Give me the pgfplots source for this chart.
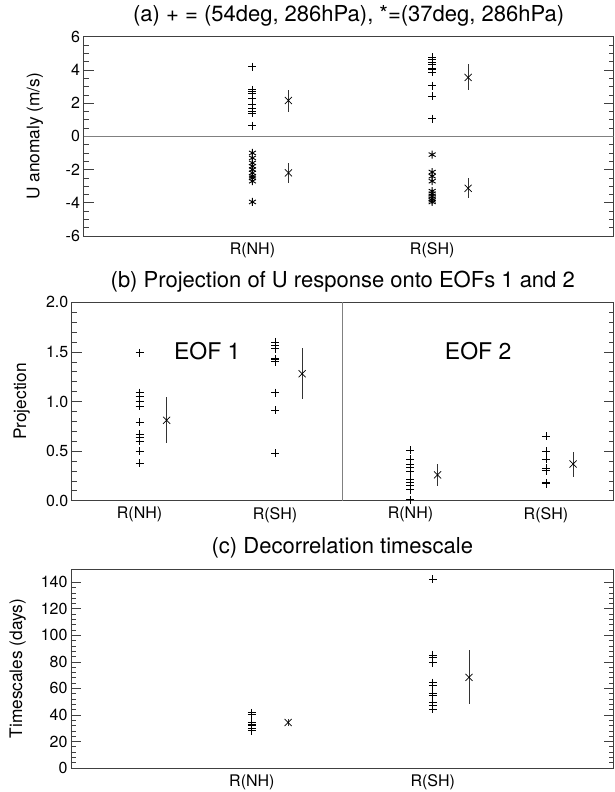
\documentclass[border=0pt]{standalone}
\usepackage{pgfplots}
\pgfplotsset{compat=1.18}
\usepackage{fontspec}
\setmainfont{TeX Gyre Heros}
\definecolor{axgray}{gray}{0.25}
\definecolor{lgray}{gray}{0.5}
\pgfplotsset{
  myaxis/.style={
    scale only axis,
    axis line style={line width=0.9pt, axgray},
    every tick/.style={line width=0.6pt, axgray},
    major tick length=10pt,
    minor tick length=5pt,
    tick align=inside,
    xtick style={draw=none},
    /pgf/number format/assume math mode=true,
    tick label style={font=\fontsize{16}{18}\selectfont},
    xticklabel style={yshift=-3pt},
    title style={font=\fontsize{22}{24}\selectfont, at={(axis description cs:0.5,1)}, anchor=center, yshift=15pt},
    ylabel style={font=\fontsize{17.3}{19}\selectfont, anchor=center},
  },
  pts/.style={only marks, mark=+, mark size=4pt, line width=0.9pt, black},
  stars/.style={only marks, mark=asterisk, mark size=4pt, line width=0.9pt, black},
  means/.style={only marks, mark=x, mark size=5pt, black, line width=0.7pt,
    error bars/.cd, y dir=both, y explicit, error mark=none,
    error bar style={line width=0.8pt, black!80}},
}
\begin{document}
\begin{tikzpicture}
\useasboundingbox (0,0) rectangle (615pt,792pt);
% ---------------- (a)
\begin{axis}[myaxis, at={(83.5pt,556pt)}, anchor=south west,
  width=530.2pt, height=199.3pt,
  xmin=0.06, xmax=3.01, ymin=-6, ymax=6,
  ytick={-6,-4,...,6}, minor y tick num=3,
  xtick={1,2}, xticklabels={R(NH),R(SH)}, minor xtick={1,2},
  ylabel={U anomaly (m/s)},
  ylabel style={at={(axis description cs:-0.0915,0.5)}},
  title={(a) + = (54deg, 286hPa), *=(37deg, 286hPa)}]
\addplot[lgray, line width=1pt, forget plot] coordinates {(0.06,0) (3.01,0)};
\addplot[pts] coordinates {(1,4.2) (1,2.8) (1,2.7) (1,2.6) (1,2.3) (1,1.9) (1,1.7) (1,1.5) (1,1.4) (1,0.65)};
\addplot[stars] coordinates {(1,-1.0) (1,-1.3) (1,-1.6) (1,-1.8) (1,-2.0) (1,-2.2) (1,-2.4) (1,-2.5) (1,-2.7) (1,-3.95)};
\addplot[pts] coordinates {(2,4.75) (2,4.6) (2,4.45) (2,4.3) (2,4.1) (2,4.0) (2,3.85) (2,3.05) (2,2.4) (2,1.07)};
\addplot[stars] coordinates {(2,-1.1) (2,-2.15) (2,-2.4) (2,-2.7) (2,-3.3) (2,-3.45) (2,-3.6) (2,-3.75) (2,-3.85) (2,-3.95)};
\addplot[means] table[x=x, y=y, y error plus=ep, y error minus=em] {
x y ep em
1.2 2.16 0.64 0.70
1.2 -2.2 0.57 0.60
2.2 3.55 0.80 0.75
2.2 -3.13 0.60 0.60
};
\end{axis}
% ---------------- (b)
\begin{axis}[myaxis, at={(71.8pt,291.3pt)}, anchor=south west,
  width=541.9pt, height=198.4pt,
  xmin=0, xmax=4, ymin=0, ymax=2,
  ytick={0,0.5,...,2}, minor y tick num=4,
  yticklabel style={/pgf/number format/.cd, fixed, fixed zerofill, precision=1},
  xtick={0.5,1.5,2.5,3.5}, xticklabels={R(NH),R(SH),R(NH),R(SH)}, minor xtick={0.5,1.5,2.5,3.5},
  ylabel={Projection},
  ylabel style={at={(axis description cs:-0.0926,0.5)}},
  title={(b) Projection of U response onto EOFs 1 and 2}]
\addplot[lgray, line width=1.2pt, forget plot] coordinates {(2,0) (2,2)};
\addplot[pts] coordinates {(0.5,1.49) (0.5,1.09) (0.5,1.05) (0.5,1.0) (0.5,0.955) (0.5,0.79) (0.5,0.67) (0.5,0.64) (0.5,0.6) (0.5,0.5) (0.5,0.38)};
\addplot[pts] coordinates {(1.5,1.60) (1.5,1.57) (1.5,1.53) (1.5,1.43) (1.5,1.42) (1.5,1.40) (1.5,1.09) (1.5,0.91) (1.5,0.48)};
\addplot[pts] coordinates {(2.5,0.51) (2.5,0.42) (2.5,0.37) (2.5,0.34) (2.5,0.29) (2.5,0.21) (2.5,0.18) (2.5,0.15) (2.5,0.11) (2.5,0.01)};
\addplot[pts] coordinates {(3.5,0.65) (3.5,0.50) (3.5,0.42) (3.5,0.33) (3.5,0.30) (3.5,0.18) (3.5,0.17)};
\addplot[means] table[x=x, y=y, y error plus=ep, y error minus=em] {
x y ep em
0.7 0.81 0.24 0.23
1.7 1.28 0.26 0.25
2.7 0.26 0.11 0.11
3.7 0.37 0.12 0.13
};
\node[font=\fontsize{23}{25}\selectfont] at (axis cs:1.0,1.51) {EOF 1};
\node[font=\fontsize{23}{25}\selectfont] at (axis cs:3.0,1.51) {EOF 2};
\end{axis}
% ---------------- (c)
\begin{axis}[myaxis, at={(71pt,24pt)}, anchor=south west,
  width=542.7pt, height=199pt,
  xmin=0, xmax=3, ymin=0, ymax=150,
  ytick={0,20,...,140}, minor y tick num=4,
  xtick={1,2}, xticklabels={R(NH),R(SH)}, minor xtick={1,2},
  ylabel={Timescales (days)},
  ylabel style={at={(axis description cs:-0.0984,0.5)}},
  title={(c) Decorrelation timescale}]
\addplot[pts] coordinates {(1,41.5) (1,40.5) (1,40) (1,34) (1,33) (1,32) (1,29.5) (1,28)};
\addplot[pts] coordinates {(2,142.2) (2,85.2) (2,83.4) (2,79.4) (2,64.3) (2,62.5) (2,56.3) (2,55) (2,49.2) (2,47.5) (2,44.2)};
\addplot[means] table[x=x, y=y, y error plus=ep, y error minus=em] {
x y ep em
1.2 34.3 3.0 3.0
2.2 68.3 20.6 20.1
};
\end{axis}
\end{tikzpicture}
\end{document}
